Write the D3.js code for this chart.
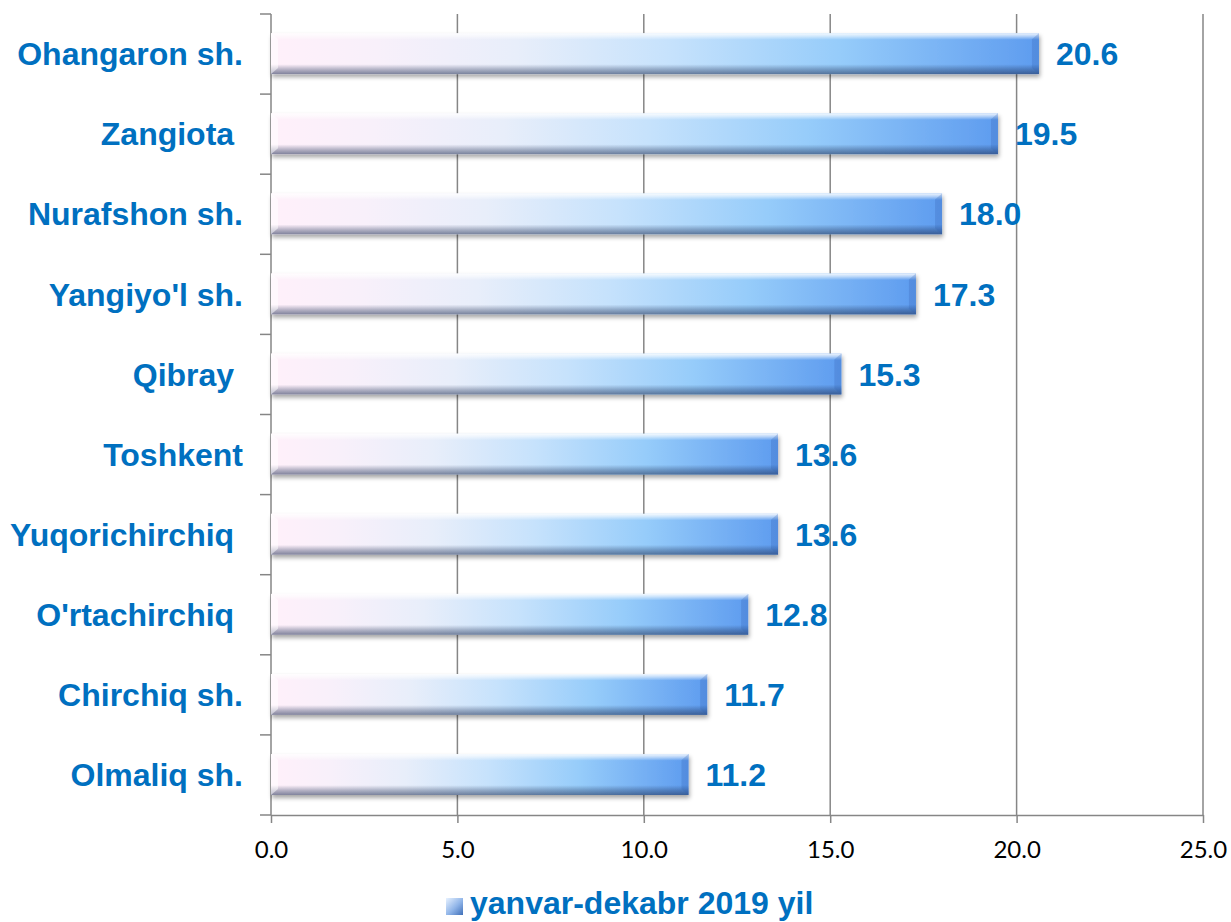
<html>
<head>
	<meta http-equiv="Content-Type" content="text/html; charset=utf-8" />
	<script src="https://cdn.jsdelivr.net/npm/d3@7/dist/d3.min.js" charset="utf-8"></script>

	<style type="text/css">
	body {
	  background-color: #fff;
	  margin: 0;
	}
	.axis path, .axis line {
	    stroke: #868686;
	    stroke-width: 1.5;
	}
	.axis text {
	    font-family: Lato, "Open Sans", sans-serif;
	    font-size: 24px;
	    fill: #000;
	}
	.lbl {
	    font-family: "Liberation Sans", Arial, sans-serif;
	    font-weight: bold;
	    font-size: 32px;
	    fill: #0070C0;
	    white-space: pre;
	}
	</style>
</head>
<body>

	<svg width="1231" height="922" version="1.1" xmlns="http://www.w3.org/2000/svg"></svg>

	<script type="text/javascript">
		// 数据
		var v_Categories = ["Ohangaron sh.", "Zangiota ", "Nurafshon sh.", "Yangiyo'l sh.", "Qibray ",
		                    "Toshkent", "Yuqorichirchiq ", "O'rtachirchiq ", "Chirchiq sh.", "Olmaliq sh."];
		var v_Values     = [20.6, 19.5, 18.0, 17.3, 15.3, 13.6, 13.6, 12.8, 11.7, 11.2];
		var v_XTicks     = [0, 5, 10, 15, 20, 25];
		var v_Series     = "yanvar-dekabr 2019 yil";


		function f_Draw()
		{
			var v_SVG    = d3.select("svg");
			var v_Plot   = {left:271, right:1203, top:14, bottom:815};
			var v_xScale = d3.scaleLinear()
			                 .domain([0, 25])
			                 .range([v_Plot.left, v_Plot.right]);
			var v_yScale = d3.scaleBand()
			                 .domain(v_Categories)
			                 .range([v_Plot.top, v_Plot.bottom]);
			var v_BW     = v_yScale.bandwidth();
			var v_BarH   = v_BW * 0.51;
			var v_BarOff = v_BW * 0.24;

			var v_Defs = v_SVG.append("defs");

			// 横向渐变
			var v_GradH = v_Defs.append("linearGradient").attr("id", "gradH")
			                    .attr("x1", "0").attr("x2", "1").attr("y1", "0").attr("y2", "0");
			[["0%", "#fff0fa"], ["14%", "#f8f0fa"], ["32%", "#e8eefa"], ["52%", "#c6e2fc"],
			 ["74%", "#96ccfa"], ["100%", "#5e9cef"]].forEach(function(s)
			{
				v_GradH.append("stop").attr("offset", s[0]).attr("stop-color", s[1]);
			});

			// 立体效果
			var v_GradV = v_Defs.append("linearGradient").attr("id", "gradV")
			                    .attr("x1", "0").attr("x2", "0").attr("y1", "0").attr("y2", "1");
			[["0%", "#ffffff", 0.9], ["7%", "#ffffff", 0.55], ["16%", "#ffffff", 0],
			 ["76%", "#1a2a50", 0], ["88%", "#1a2a50", 0.3], ["100%", "#1a2a50", 0.55]].forEach(function(s)
			{
				v_GradV.append("stop").attr("offset", s[0]).attr("stop-color", s[1]).attr("stop-opacity", s[2]);
			});

			var v_GradL = v_Defs.append("linearGradient").attr("id", "gradL")
			                    .attr("x1", "0").attr("x2", "1").attr("y1", "0").attr("y2", "1");
			v_GradL.append("stop").attr("offset", "0%").attr("stop-color", "#e8f2ff");
			v_GradL.append("stop").attr("offset", "55%").attr("stop-color", "#8fb4e8");
			v_GradL.append("stop").attr("offset", "100%").attr("stop-color", "#3f6fb8");

			var v_Filter = v_Defs.append("filter").attr("id", "shadow")
			                     .attr("x", "-5%").attr("y", "-20%").attr("width", "110%").attr("height", "160%");
			v_Filter.append("feDropShadow").attr("dx", 1).attr("dy", 3).attr("stdDeviation", 2)
			        .attr("flood-color", "#000").attr("flood-opacity", 0.35);

			// 网格线
			v_SVG.append("g").selectAll("line")
			     .data(v_XTicks.filter(function(d){ return d > 0; }))
			     .enter().append("line")
			     .attr("x1", function(d){ return v_xScale(d); })
			     .attr("x2", function(d){ return v_xScale(d); })
			     .attr("y1", v_Plot.top)
			     .attr("y2", v_Plot.bottom)
			     .attr("stroke", "#868686")
			     .attr("stroke-width", 1.5);

			// x轴
			v_SVG.append("g")
			     .attr("class", "axis")
			     .attr("transform", "translate(0," + v_Plot.bottom + ")")
			     .call(d3.axisBottom(v_xScale)
			             .tickValues(v_XTicks)
			             .tickFormat(d3.format(".1f"))
			             .tickSize(8)
			             .tickSizeOuter(0)
			             .tickPadding(18));

			// y轴
			var v_GY = v_SVG.append("g").attr("class", "axis");
			v_GY.append("line")
			    .attr("x1", v_Plot.left).attr("x2", v_Plot.left)
			    .attr("y1", v_Plot.top).attr("y2", v_Plot.bottom);
			v_GY.selectAll(".ytick")
			    .data(d3.range(v_Categories.length + 1))
			    .enter().append("line")
			    .attr("class", "ytick")
			    .attr("x1", v_Plot.left - 11).attr("x2", v_Plot.left)
			    .attr("y1", function(i){ return v_Plot.top + i * v_yScale.step(); })
			    .attr("y2", function(i){ return v_Plot.top + i * v_yScale.step(); });

			// 柱形
			var v_Data = v_Categories.map(function(c, i){ return {name:c, value:v_Values[i]}; });
			var v_Bars = v_SVG.append("g").selectAll("g")
			                  .data(v_Data)
			                  .enter().append("g")
			                  .attr("filter", "url(#shadow)");

			v_Bars.append("rect")
			      .attr("x", v_xScale(0))
			      .attr("y", function(d){ return v_yScale(d.name) + v_BarOff; })
			      .attr("width", function(d){ return v_xScale(d.value) - v_xScale(0); })
			      .attr("height", v_BarH)
			      .attr("fill", "url(#gradH)");

			v_Bars.append("rect")
			      .attr("x", v_xScale(0))
			      .attr("y", function(d){ return v_yScale(d.name) + v_BarOff; })
			      .attr("width", function(d){ return v_xScale(d.value) - v_xScale(0); })
			      .attr("height", v_BarH)
			      .attr("fill", "url(#gradV)");

			// 右端斜面
			v_Bars.append("path")
			      .attr("d", function(d)
			      {
			          var x1 = v_xScale(d.value), y0 = v_yScale(d.name) + v_BarOff, y1 = y0 + v_BarH;
			          return "M" + (x1 - 7) + "," + (y0 + 6) + "L" + x1 + "," + y0 + "L" + x1 + "," + y1 +
			                 "L" + (x1 - 7) + "," + (y1 - 6) + "Z";
			      })
			      .attr("fill", "#2f5fae")
			      .attr("fill-opacity", 0.25);

			v_Bars.append("path")
			      .attr("d", function(d)
			      {
			          var x0 = v_xScale(0), y0 = v_yScale(d.name) + v_BarOff, y1 = y0 + v_BarH;
			          return "M" + x0 + "," + y0 + "L" + (x0 + 7) + "," + (y0 + 6) + "L" + (x0 + 7) + "," + (y1 - 6) +
			                 "L" + x0 + "," + y1 + "Z";
			      })
			      .attr("fill", "#ffffff")
			      .attr("fill-opacity", 0.5);

			// 分类文字
			v_SVG.append("g").selectAll("text")
			     .data(v_Data)
			     .enter().append("text")
			     .attr("class", "lbl")
			     .attr("text-anchor", "end")
			     .attr("x", v_Plot.left - 28)
			     .attr("y", function(d){ return v_yScale(d.name) + v_BW / 2; })
			     .attr("dy", "0.35em")
			     .text(function(d){ return d.name; });

			// 数值文字
			v_SVG.append("g").selectAll("text")
			     .data(v_Data)
			     .enter().append("text")
			     .attr("class", "lbl")
			     .attr("x", function(d){ return v_xScale(d.value) + 17; })
			     .attr("y", function(d){ return v_yScale(d.name) + v_BW / 2; })
			     .attr("dy", "0.35em")
			     .text(function(d){ return d.value.toFixed(1); });

			// 图例
			var v_Legend = v_SVG.append("g").attr("transform", "translate(446,898)");
			v_Legend.append("rect")
			        .attr("width", 17).attr("height", 17)
			        .attr("fill", "url(#gradL)");
			v_Legend.append("text")
			        .attr("class", "lbl")
			        .attr("x", 24)
			        .attr("y", 16)
			        .text(v_Series);
		}

		f_Draw();
	</script>

</body>
</html>
